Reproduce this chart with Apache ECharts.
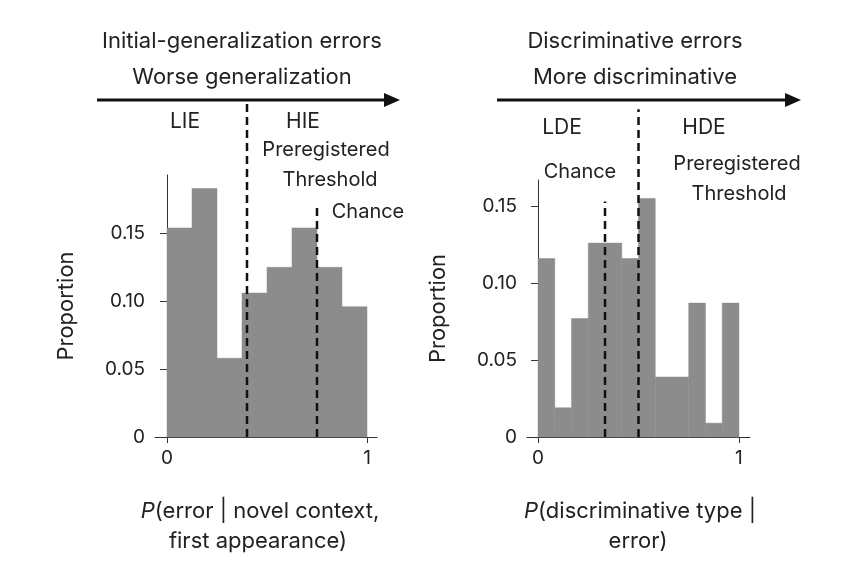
<!DOCTYPE html><html><head><meta charset="utf-8"><script src="https://cdn.jsdelivr.net/npm/echarts@6/dist/echarts.min.js"></script>
<style>body{margin:0;background:#fff}#c{width:844px;height:570px}</style></head><body><div id="c"></div><script>
const leftEdges=[0,0.125,0.25,0.375,0.5,0.625,0.75,0.875,1];
const leftValues=[0.154,0.183,0.058,0.106,0.125,0.154,0.125,0.096];
const rightEdges=[0,1/12,2/12,3/12,4/12,5/12,6/12,7/12,8/12,9/12,10/12,11/12,1];
const rightValues=[0.116,0.019,0.077,0.126,0.126,0.116,0.155,0.039,0.039,0.087,0.009,0.087];
const leftLines=[[0.4,0.248],[0.75,0.171]];
const rightLines=[[1/3,0.153],[0.5,0.213]];
const yTicks=[0,0.05,0.10,0.15];
const F='Inter, Roboto, sans-serif';
const chart=echarts.init(document.getElementById('c'));
function bars(edges,vals){return vals.map((v,i)=>[edges[i],edges[i+1],v]);}
function barItem(p,api){const a=api.coord([api.value(0),api.value(2)]),b=api.coord([api.value(1),0]);
 return {type:'rect',shape:{x:a[0],y:a[1],width:b[0]-a[0],height:b[1]-a[1]},style:{fill:'#8c8c8c',stroke:'#8c8c8c',lineWidth:0.5}};}
function lineItem(p,api){const a=api.coord([api.value(0),0]),b=api.coord([api.value(0),api.value(1)]);
 return {type:'line',shape:{x1:a[0],y1:a[1],x2:b[0],y2:b[1]},style:{stroke:'#111',lineWidth:2.5,lineDash:[8,5]}};}
const xa=(min,max,gi)=>({type:'value',gridIndex:gi,min,max,splitLine:{show:false},axisLine:{lineStyle:{color:'#333'}},
 axisTick:{customValues:[0,1],length:6,lineStyle:{color:'#333'}},axisLabel:{customValues:[0,1],fontSize:19,color:'#222',fontFamily:F,margin:12}});
const ya=(max,gi)=>({type:'value',gridIndex:gi,min:0,max,splitLine:{show:false},name:'Proportion',nameLocation:'middle',nameGap:78,
 nameTextStyle:{fontSize:22,color:'#222',fontFamily:F},axisLine:{show:true,lineStyle:{color:'#333'}},
 axisTick:{show:true,customValues:yTicks,length:7,lineStyle:{color:'#333'}},
 axisLabel:{customValues:yTicks,fontSize:19,color:'#222',fontFamily:F,margin:10,formatter:v=>v===0?'0':v.toFixed(2)}});
const T=(x,y,t,s,extra)=>Object.assign({type:'text',x,y,style:{text:t,font:(s||22)+'px '+F,fill:'#222',textAlign:'center'}},extra||{});
chart.setOption({animation:false,
grid:[{left:155,right:844-377,top:175,bottom:570-437},{left:527,right:844-750,top:180,bottom:570-437}],
xAxis:[xa(-0.06,1.05,0),xa(-0.055,1.055,1)],
yAxis:[ya(0.193,0),ya(0.167,1)],
series:[
{type:'custom',xAxisIndex:0,yAxisIndex:0,data:bars(leftEdges,leftValues),renderItem:barItem},
{type:'custom',xAxisIndex:1,yAxisIndex:1,data:bars(rightEdges,rightValues),renderItem:barItem},
{type:'custom',xAxisIndex:0,yAxisIndex:0,data:leftLines,renderItem:lineItem,clip:false,z:5},
{type:'custom',xAxisIndex:1,yAxisIndex:1,data:rightLines,renderItem:lineItem,clip:false,z:5}],
graphic:[
T(242,30,'Initial-generalization errors'),T(242,66,'Worse generalization'),
T(635,30,'Discriminative errors'),T(635,66,'More discriminative'),
{type:'line',shape:{x1:97,y1:100,x2:388,y2:100},style:{stroke:'#111',lineWidth:3}},
{type:'polygon',shape:{points:[[400,100],[384,93],[384,107]]},style:{fill:'#111'}},
{type:'line',shape:{x1:497,y1:100,x2:788,y2:100},style:{stroke:'#111',lineWidth:3}},
{type:'polygon',shape:{points:[[801,100],[785,93],[785,107]]},style:{fill:'#111'}},
T(185,111,'LIE',21),T(303,111,'HIE',21),T(326,140,'Preregistered',20),T(330,170,'Threshold',20),
T(368,202,'Chance',20),
T(562,117,'LDE',21),T(704,117,'HDE',21),T(580,162,'Chance',20),T(737,154,'Preregistered',20),T(739,184,'Threshold',20),
{type:'text',x:260,y:500,style:{rich:{i:{font:'italic 22px '+F,fill:'#222'},n:{font:'22px '+F,fill:'#222'}},text:'{i|P}{n|(error | novel context,}',textAlign:'center'}},
T(258,530,'first appearance)'),
{type:'text',x:640,y:500,style:{rich:{i:{font:'italic 22px '+F,fill:'#222'},n:{font:'22px '+F,fill:'#222'}},text:'{i|P}{n|(discriminative type |}',textAlign:'center'}},
T(638,530,'error)')
]});
</script></body></html>
